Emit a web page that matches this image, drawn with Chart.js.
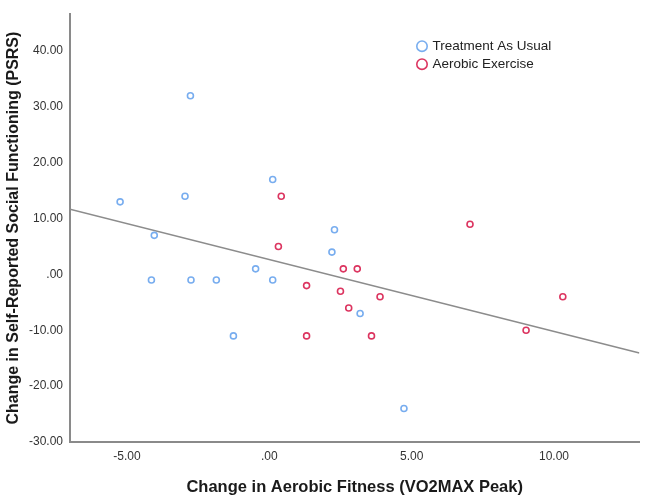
<!DOCTYPE html>
<html>
<head>
<meta charset="utf-8">
<script src="https://cdn.jsdelivr.net/npm/chart.js@4/dist/chart.umd.min.js"></script>
<style>
  html, body { margin: 0; padding: 0; background: #ffffff; }
  #wrap { width: 645px; height: 497px; position: relative; }
</style>
</head>
<body>
<div id="wrap"><canvas id="c" width="645" height="497"></canvas></div>
<script>
// ---- data ----
const seriesNames = ['Treatment As Usual', 'Aerobic Exercise'];
const tauX = [-5.24, -4.04, -4.14, -2.96, -2.77, -2.75, -1.86, -1.26, -0.48, 0.12, 0.12, 2.29, 2.20, 3.19, 4.73];
const tauY = [13, 7, -1, 14, 32, -1, -1, -11, 1, 17, -1, 8, 4, -7, -24];
const aeX = [0.42, 0.32, 2.60, 3.09, 1.31, 2.50, 3.89, 2.79, 1.31, 3.59, 7.05, 9.02, 10.31];
const aeY = [14, 5, 1, 1, -2, -3, -4, -6, -11, -11, 9, -10, -4];
const xTicks = [-5, 0, 5, 10];
const yTicks = [-30, -20, -10, 0, 10, 20, 30, 40];
const xRange = [-7, 13];
const yRange = [-30, 46.6];

// ---- total-sample least-squares fit line ----
const allX = tauX.concat(aeX), allY = tauY.concat(aeY);
const n = allX.length;
const mx = allX.reduce((a, b) => a + b, 0) / n;
const my = allY.reduce((a, b) => a + b, 0) / n;
let sxy = 0, sxx = 0;
for (let i = 0; i < n; i++) { sxy += (allX[i] - mx) * (allY[i] - my); sxx += (allX[i] - mx) ** 2; }
const slope = sxy / sxx, intercept = my - slope * mx;
const fitLine = xRange.map(x => ({ x: x, y: intercept + slope * x }));

const pts = (xs, ys) => xs.map((x, i) => ({ x: x, y: ys[i] }));
const BLUE = '#78adef', RED = '#dc3560';
const FONT = '"Liberation Sans", Arial, sans-serif';
const fmt = v => (v === 0 ? '.00' : v.toFixed(2));

const legendInPlot = {
  id: 'legendInPlot',
  afterDatasetsDraw(chart) {
    const ctx = chart.ctx, a = chart.chartArea;
    const items = chart.data.datasets.filter(d => d.showInLegendBox);
    ctx.save();
    items.forEach((d, i) => {
      const cx = a.left + 352, cy = a.top + 32 + i * 18;
      ctx.beginPath();
      ctx.arc(cx, cy, 5.2, 0, Math.PI * 2);
      ctx.lineWidth = 1.6;
      ctx.strokeStyle = d.borderColor;
      ctx.stroke();
      ctx.fillStyle = '#222222';
      ctx.font = '13.5px ' + FONT;
      ctx.textBaseline = 'middle';
      ctx.textAlign = 'left';
      ctx.fillText(d.label, cx + 10.5, cy + 0.5);
    });
    ctx.restore();
  }
};

new Chart(document.getElementById('c'), {
  type: 'scatter',
  data: {
    datasets: [
      {
        label: seriesNames[0], data: pts(tauX, tauY), showInLegendBox: true,
        borderColor: BLUE, backgroundColor: 'rgba(255,255,255,0)',
        pointRadius: 3, pointBorderWidth: 1.6, order: 1
      },
      {
        label: seriesNames[1], data: pts(aeX, aeY), showInLegendBox: true,
        borderColor: RED, backgroundColor: 'rgba(255,255,255,0)',
        pointRadius: 3, pointBorderWidth: 1.6, order: 1
      },
      {
        type: 'line', label: 'Fit', data: fitLine,
        borderColor: '#8c8c8c', borderWidth: 1.5, pointRadius: 0,
        fill: false, order: 10
      }
    ]
  },
  options: {
    responsive: false,
    animation: false,
    layout: { padding: { top: 12, right: 2, left: 0, bottom: 0 } },
    plugins: { legend: { display: false }, tooltip: { enabled: false } },
    scales: {
      x: {
        type: 'linear', min: xRange[0], max: xRange[1],
        afterBuildTicks: s => { s.ticks = xTicks.map(v => ({ value: v })); },
        afterFit: s => { s.height = 55; },
        grid: { display: false, drawTicks: false },
        border: { display: true, color: '#8a8a8a', width: 2 },
        ticks: { padding: 7, color: '#333333', font: { family: FONT, size: 12 }, callback: fmt },
        title: {
          display: true, text: 'Change in Aerobic Fitness (VO2MAX Peak)', color: '#1a1a1a',
          font: { family: FONT, size: 16.5, weight: 'bold' },
          padding: { top: 4, bottom: 0 }
        }
      },
      y: {
        type: 'linear', min: yRange[0], max: yRange[1],
        afterBuildTicks: s => { s.ticks = yTicks.map(v => ({ value: v })); },
        afterFit: s => { s.width = 70; },
        grid: { display: false, drawTicks: false },
        border: { display: true, color: '#8a8a8a', width: 2 },
        ticks: { padding: 7, color: '#333333', font: { family: FONT, size: 12 }, callback: fmt },
        title: {
          display: true, text: 'Change in Self-Reported Social Functioning (PSRS)', color: '#1a1a1a',
          font: { family: FONT, size: 16, weight: 'bold' },
          padding: { top: 4, bottom: 4 }
        }
      }
    }
  },
  plugins: [legendInPlot]
});
</script>
</body>
</html>
